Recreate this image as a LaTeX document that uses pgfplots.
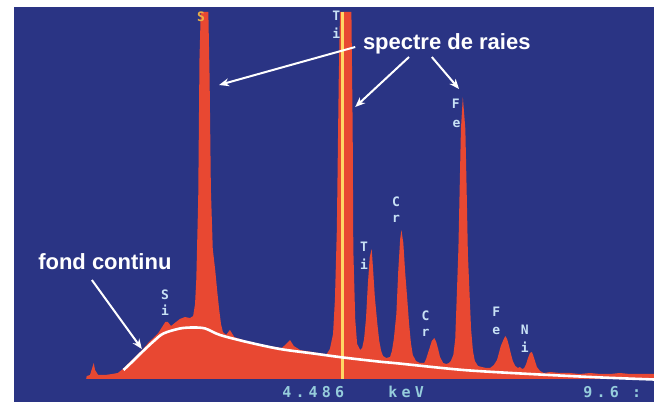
\documentclass[border=0pt]{standalone}
\usepackage{pgfplots}
\pgfplotsset{compat=1.18}
\usetikzlibrary{arrows.meta}
\usepackage{fontspec}
\setmainfont{Liberation Sans}
\newfontfamily\lcd[LetterSpace=28]{DejaVu Sans Mono}
\newfontfamily\elf{DejaVu Sans Mono}
\definecolor{scrblue}{RGB}{42,52,132}
\definecolor{specred}{RGB}{232,72,50}
\definecolor{cursor}{RGB}{255,214,100}
\definecolor{lcdtxt}{RGB}{150,205,220}
\definecolor{eltxt}{RGB}{200,225,245}
\definecolor{sylw}{RGB}{235,175,70}

\begin{document}
\begin{tikzpicture}
\fill[white] (0,0) rectangle (654pt,402pt);
\begin{axis}[at={(14pt,0pt)},anchor=south west,scale only axis,width=640pt,height=395pt,
 xmin=-0.68,xmax=9.43,ymin=-23,ymax=372,
 axis line style={draw=none},ticks=none,
 axis background/.style={fill=scrblue}]
% spectrum (keV, counts)
\addplot[fill=specred,draw=none] coordinates {
(0.46,0)(0.47,3)(0.52,4)(0.55,10)(0.58,16)(0.60,9)(0.65,4)(0.76,4)(0.87,5)(0.96,6)
(1.04,10)(1.12,15)(1.20,20)(1.28,25)(1.36,30)(1.44,36)(1.52,41)(1.60,46)(1.66,52)(1.71,57)
(1.75,57)(1.80,53)(1.86,56)(1.94,60)(2.02,62)(2.10,61)(2.15,63)(2.18,75)(2.20,100)(2.23,180)
(2.25,320)(2.27,367)(2.39,367)(2.41,300)(2.43,190)(2.46,130)(2.50,108)(2.53,88)(2.56,70)(2.59,55)
(2.62,47)(2.67,44)(2.73,49)(2.80,42)(2.89,40)(2.99,38)(3.08,37)(3.18,35)(3.27,34)(3.36,32)
(3.46,32)(3.55,31)(3.62,35)(3.68,39)(3.74,33)(3.84,29)(3.93,28)(4.03,27)(4.12,26)(4.22,25)
(4.25,24)(4.31,30)(4.36,45)(4.39,80)(4.42,150)(4.45,300)(4.47,367)(4.65,367)(4.67,250)(4.68,130)
(4.71,60)(4.74,35)(4.79,29)(4.82,31)(4.85,40)(4.88,60)(4.91,95)(4.94,122)(4.97,130)(4.99,112)
(5.02,82)(5.06,55)(5.09,38)(5.12,28)(5.15,23)(5.20,21)(5.26,22)(5.29,28)(5.32,40)(5.36,65)
(5.39,108)(5.42,140)(5.44,149)(5.47,136)(5.50,106)(5.53,82)(5.56,56)(5.59,36)(5.62,24)(5.67,18)
(5.73,16)(5.80,16)(5.83,20)(5.86,26)(5.89,32)(5.92,38)(5.96,41)(5.99,37)(6.02,30)(6.05,22)
(6.10,16)(6.15,15)(6.19,16)(6.22,18)(6.26,24)(6.29,40)(6.31,75)(6.34,130)(6.36,190)(6.38,250)
(6.41,282)(6.45,250)(6.47,190)(6.49,125)(6.52,80)(6.54,50)(6.57,28)(6.60,18)(6.65,13)(6.71,12)
(6.78,11)(6.84,11)(6.90,14)(6.95,19)(6.98,26)(7.01,33)(7.05,39)(7.08,43)(7.11,40)(7.14,33)
(7.17,25)(7.20,18)(7.24,13)(7.28,11)(7.31,12)(7.35,10)(7.38,11)(7.41,15)(7.44,21)(7.47,26)
(7.50,27)(7.52,24)(7.55,18)(7.58,12)(7.63,8)(7.69,6)(7.79,7)(7.95,6)(8.10,6)(8.26,5)
(8.42,6)(8.58,5)(8.74,5)(8.89,6)(9.05,5)(9.21,5)(9.43,5)(9.43,0)} \closedcycle;
% cursor line
\addplot[cursor,line width=2.2pt] coordinates {(4.51,0)(4.51,367)};
% continuous background (fond continu)
\addplot[white,line width=2.6pt,smooth] coordinates {
(1.05,9)(1.20,18)(1.36,28)(1.53,38)(1.68,45.5)(1.94,50.5)(2.15,51.5)(2.34,50.5)(2.575,44)
(3.0,37)(3.52,30)(4.05,25.5)(4.52,21.5)(5.10,17.3)(5.37,15.7)(6.42,9)(7.47,5)(8.53,1.7)(9.43,-0.5)};
% annotations
\draw[white,line width=2pt,-{Stealth[length=10pt,width=8pt]}] (axis cs:4.71,332) -- (axis cs:2.56,294);
\draw[white,line width=2pt,-{Stealth[length=10pt,width=8pt]}] (axis cs:5.56,322) -- (axis cs:4.71,272);
\draw[white,line width=2pt,-{Stealth[length=10pt,width=8pt]}] (axis cs:5.92,322) -- (axis cs:6.35,290);
\draw[white,line width=2pt,-{Stealth[length=10pt,width=8pt]}] (axis cs:0.55,99) -- (axis cs:1.34,30);
\node[anchor=base west,inner sep=0,text=white,font=\fontsize{22pt}{22pt}\selectfont\bfseries] at (axis cs:4.83,329) {spectre de raies};
\node[anchor=base west,inner sep=0,text=white,font=\fontsize{22pt}{22pt}\selectfont\bfseries] at (axis cs:-0.30,109) {fond continu};
% screen read-out
\node[anchor=base west,inner sep=0,text=lcdtxt,font=\lcd\bfseries\fontsize{15pt}{15pt}\selectfont] at (axis cs:3.555,-19) {4.486};
\node[anchor=base west,inner sep=0,text=lcdtxt,font=\lcd\bfseries\fontsize{15pt}{15pt}\selectfont] at (axis cs:5.23,-19) {keV};
\node[anchor=base west,inner sep=0,text=lcdtxt,font=\lcd\bfseries\fontsize{15pt}{15pt}\selectfont] at (axis cs:8.31,-19) {9.6 :};
% element labels
\node[inner sep=0,text=sylw,font=\elf\bfseries\fontsize{13pt}{13pt}\selectfont] at (axis cs:2.275,362) {S};
\node[inner sep=0,text=eltxt,font=\elf\bfseries\fontsize{13pt}{13pt}\selectfont] at (axis cs:4.41,363) {T};
\node[inner sep=0,text=eltxt,font=\elf\bfseries\fontsize{13pt}{13pt}\selectfont] at (axis cs:4.41,346) {i};
\node[inner sep=0,text=eltxt,font=\elf\bfseries\fontsize{13pt}{13pt}\selectfont] at (axis cs:1.706,84) {S};
\node[inner sep=0,text=eltxt,font=\elf\bfseries\fontsize{13pt}{13pt}\selectfont] at (axis cs:1.706,69) {i};
\node[inner sep=0,text=eltxt,font=\elf\bfseries\fontsize{13pt}{13pt}\selectfont] at (axis cs:4.85,132) {T};
\node[inner sep=0,text=eltxt,font=\elf\bfseries\fontsize{13pt}{13pt}\selectfont] at (axis cs:4.85,115) {i};
\node[inner sep=0,text=eltxt,font=\elf\bfseries\fontsize{13pt}{13pt}\selectfont] at (axis cs:5.355,177) {C};
\node[inner sep=0,text=eltxt,font=\elf\bfseries\fontsize{13pt}{13pt}\selectfont] at (axis cs:5.355,160) {r};
\node[inner sep=0,text=eltxt,font=\elf\bfseries\fontsize{13pt}{13pt}\selectfont] at (axis cs:5.82,63) {C};
\node[inner sep=0,text=eltxt,font=\elf\bfseries\fontsize{13pt}{13pt}\selectfont] at (axis cs:5.82,46) {r};
\node[inner sep=0,text=eltxt,font=\elf\bfseries\fontsize{13pt}{13pt}\selectfont] at (axis cs:6.30,275) {F};
\node[inner sep=0,text=eltxt,font=\elf\bfseries\fontsize{13pt}{13pt}\selectfont] at (axis cs:6.31,255) {e};
\node[inner sep=0,text=eltxt,font=\elf\bfseries\fontsize{13pt}{13pt}\selectfont] at (axis cs:6.94,67) {F};
\node[inner sep=0,text=eltxt,font=\elf\bfseries\fontsize{13pt}{13pt}\selectfont] at (axis cs:6.94,48) {e};
\node[inner sep=0,text=eltxt,font=\elf\bfseries\fontsize{13pt}{13pt}\selectfont] at (axis cs:7.39,49) {N};
\node[inner sep=0,text=eltxt,font=\elf\bfseries\fontsize{13pt}{13pt}\selectfont] at (axis cs:7.39,32) {i};
\end{axis}
\end{tikzpicture}
\end{document}
